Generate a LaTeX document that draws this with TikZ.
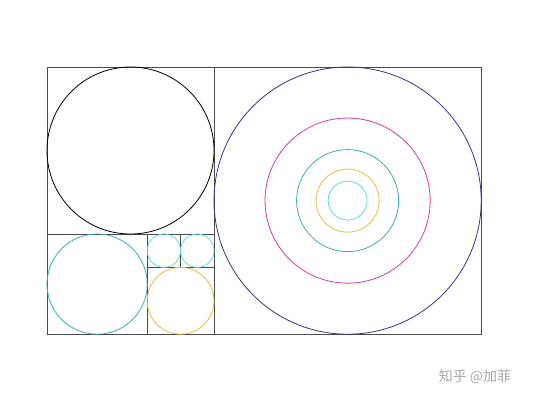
\documentclass[tikz,border=0pt]{standalone}
\usepackage{fontspec}
\newfontfamily\cjk{Noto Sans CJK SC}
\definecolor{framegray}{HTML}{4A4A4A}
\definecolor{cblue}{HTML}{3A2E8C}
\definecolor{cmag}{HTML}{D83A9E}
\definecolor{cteal}{HTML}{3AAFB0}
\definecolor{cyell}{HTML}{E6BE3C}
\definecolor{ccyan}{HTML}{5CDCDC}
\definecolor{wm}{HTML}{A8A8A8}
\begin{document}
\begin{tikzpicture}[x=0.75pt,y=-0.75pt,
  frame/.style={draw=framegray,line width=0.6pt},
  ring/.style={line width=0.6pt}]
\useasboundingbox (0,0) rectangle (534,400);
\def\u{33.4}
\def\xo{47}
\def\yo{67}
% outer rectangle and squares
\draw[frame] (\xo,\yo) rectangle ({\xo+13*\u},{\yo+8*\u});
\draw[frame] ({\xo+5*\u},\yo) -- ({\xo+5*\u},{\yo+8*\u});
\draw[frame] (\xo,{\yo+5*\u}) -- ({\xo+5*\u},{\yo+5*\u});
\draw[frame] ({\xo+3*\u},{\yo+5*\u}) -- ({\xo+3*\u},{\yo+8*\u});
\draw[frame] ({\xo+3*\u},{\yo+6*\u}) -- ({\xo+5*\u},{\yo+6*\u});
\draw[frame] ({\xo+4*\u},{\yo+5*\u}) -- ({\xo+4*\u},{\yo+6*\u});
% inscribed circles
\draw[ring,black] ({\xo+2.5*\u},{\yo+2.5*\u}) circle ({2.5*\u});
\draw[ring,cteal] ({\xo+1.5*\u},{\yo+6.5*\u}) circle ({1.5*\u});
\draw[ring,ccyan] ({\xo+3.5*\u},{\yo+5.5*\u}) circle ({0.5*\u});
\draw[ring,ccyan] ({\xo+4.5*\u},{\yo+5.5*\u}) circle ({0.5*\u});
\draw[ring,cyell] ({\xo+4*\u},{\yo+7*\u}) circle ({\u});
% concentric circles in big square
\coordinate (c) at ({\xo+9*\u},{\yo+4*\u});
\draw[ring,cblue] (c) circle ({4*\u});
\draw[ring,cmag] (c) circle ({4*\u/1.618034});
\draw[ring,cteal] (c) circle ({4*\u/2.618034});
\draw[ring,cyell] (c) circle ({4*\u/4.236068});
\draw[ring,ccyan] (c) circle ({4*\u/6.854102});
% watermark
\node[anchor=center,text=wm,font=\cjk\fontsize{10.5}{12}\selectfont,inner sep=0pt] (wmk) at (475,377) {知乎 @加菲};
\end{tikzpicture}
\end{document}
